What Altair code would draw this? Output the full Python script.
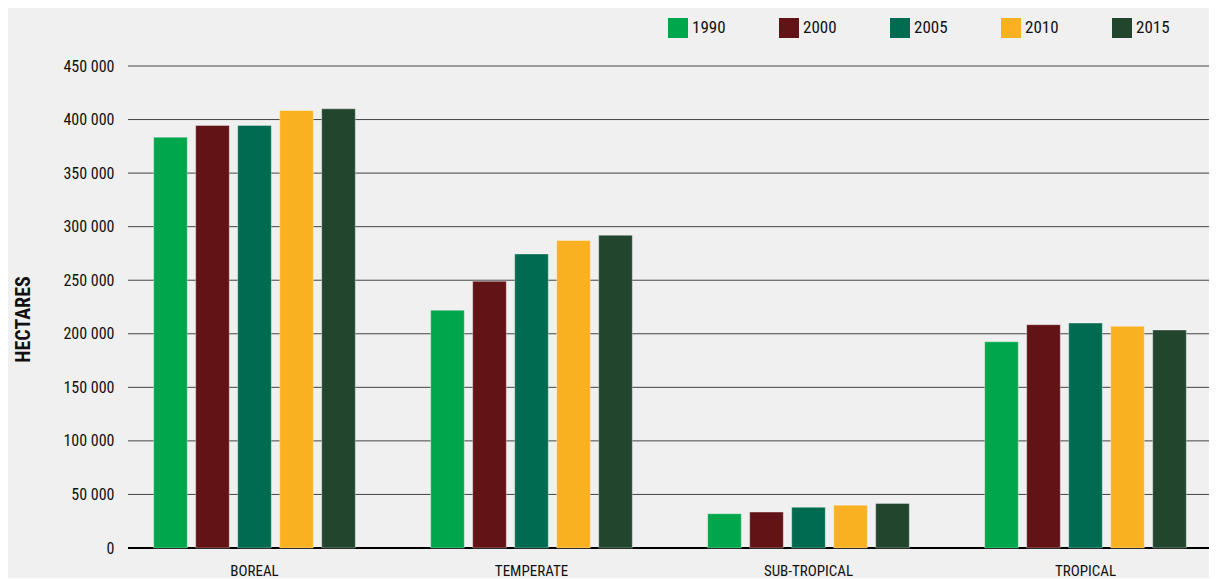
import altair as alt
import pandas as pd

years = ["1990", "2000", "2005", "2010", "2015"]
regions = ["BOREAL", "TEMPERATE", "SUB-TROPICAL", "TROPICAL"]
boreal = [383500, 394500, 394500, 408500, 410000]
temperate = [222000, 249000, 274500, 287000, 292000]
subtropical = [32000, 33500, 38000, 40000, 41500]
tropical = [192500, 208500, 210000, 207000, 203500]
colors = ["#00a64b", "#621315", "#006b50", "#f9b122", "#22452d"]
y_ticks = [0, 50000, 100000, 150000, 200000, 250000, 300000, 350000, 400000, 450000]

series = [boreal, temperate, subtropical, tropical]
rows = []
for region, vals in zip(regions, series):
    for yr, v in zip(years, vals):
        rows.append({"region": region, "year": yr, "value": v})
df = pd.DataFrame(rows)
grid_df = pd.DataFrame({"value": y_ticks})

FONT = "Roboto Condensed, Liberation Sans Narrow, DejaVu Sans Condensed, sans-serif"
W, H = 1081, 482

yscale = alt.Scale(domain=[0, 450000], nice=False)

grid = alt.Chart(grid_df).mark_rule().encode(
    y=alt.Y("value:Q", scale=yscale),
    x=alt.value(0),
    x2=alt.value(W),
    color=alt.condition("datum.value == 0", alt.value("#000000"), alt.value("#444444")),
    strokeWidth=alt.condition("datum.value == 0", alt.value(2), alt.value(1)),
)

bars = alt.Chart(df).mark_bar(
    stroke="#ffffff", strokeWidth=1, strokeOpacity=0.35
).encode(
    x=alt.X(
        "region:N",
        sort=regions,
        scale=alt.Scale(range=[-12, 1096], paddingInner=0.26, paddingOuter=0.13),
        axis=alt.Axis(
            title=None, labelAngle=0, ticks=False, domain=False,
            labelPadding=15, labelFontSize=15, labelColor="#111111",
            labelFont=FONT, grid=False,
        ),
    ),
    xOffset=alt.XOffset("year:N", sort=years, scale=alt.Scale(paddingInner=0.2, paddingOuter=0.04)),
    y=alt.Y(
        "value:Q",
        scale=yscale,
        axis=alt.Axis(
            values=y_ticks, title="HECTARES", titleFontWeight="bold", titleFontSize=20,
            titleFont=FONT, titleColor="#111111", titleX=-95, titleY=253,
            labelFontSize=16, labelFont=FONT, labelColor="#111111", labelPadding=14,
            ticks=False, domain=False, grid=False,
            labelExpr="replace(format(datum.value, ','), ',', ' ')",
        ),
    ),
    color=alt.Color(
        "year:N", sort=years,
        scale=alt.Scale(domain=years, range=colors),
        legend=alt.Legend(
            title=None, orient="none", legendX=540, legendY=-48, direction="horizontal",
            columns=5, columnPadding=53, symbolType="square", symbolSize=400,
            symbolStrokeWidth=0, symbolOpacity=1, labelFontSize=17, labelFont=FONT,
            labelColor="#111111", labelOffset=4, padding=0,
        ),
    ),
)

chart = alt.layer(grid, bars).properties(
    width=W, height=H,
    background="#f0f0f0",
    autosize=alt.AutoSizeParams(type="none"),
    padding={"left": 120, "top": 58, "right": 0, "bottom": 30},
).configure_view(strokeOpacity=0)

chart.save("out.html", embed_options={"renderer": "svg", "actions": False})
